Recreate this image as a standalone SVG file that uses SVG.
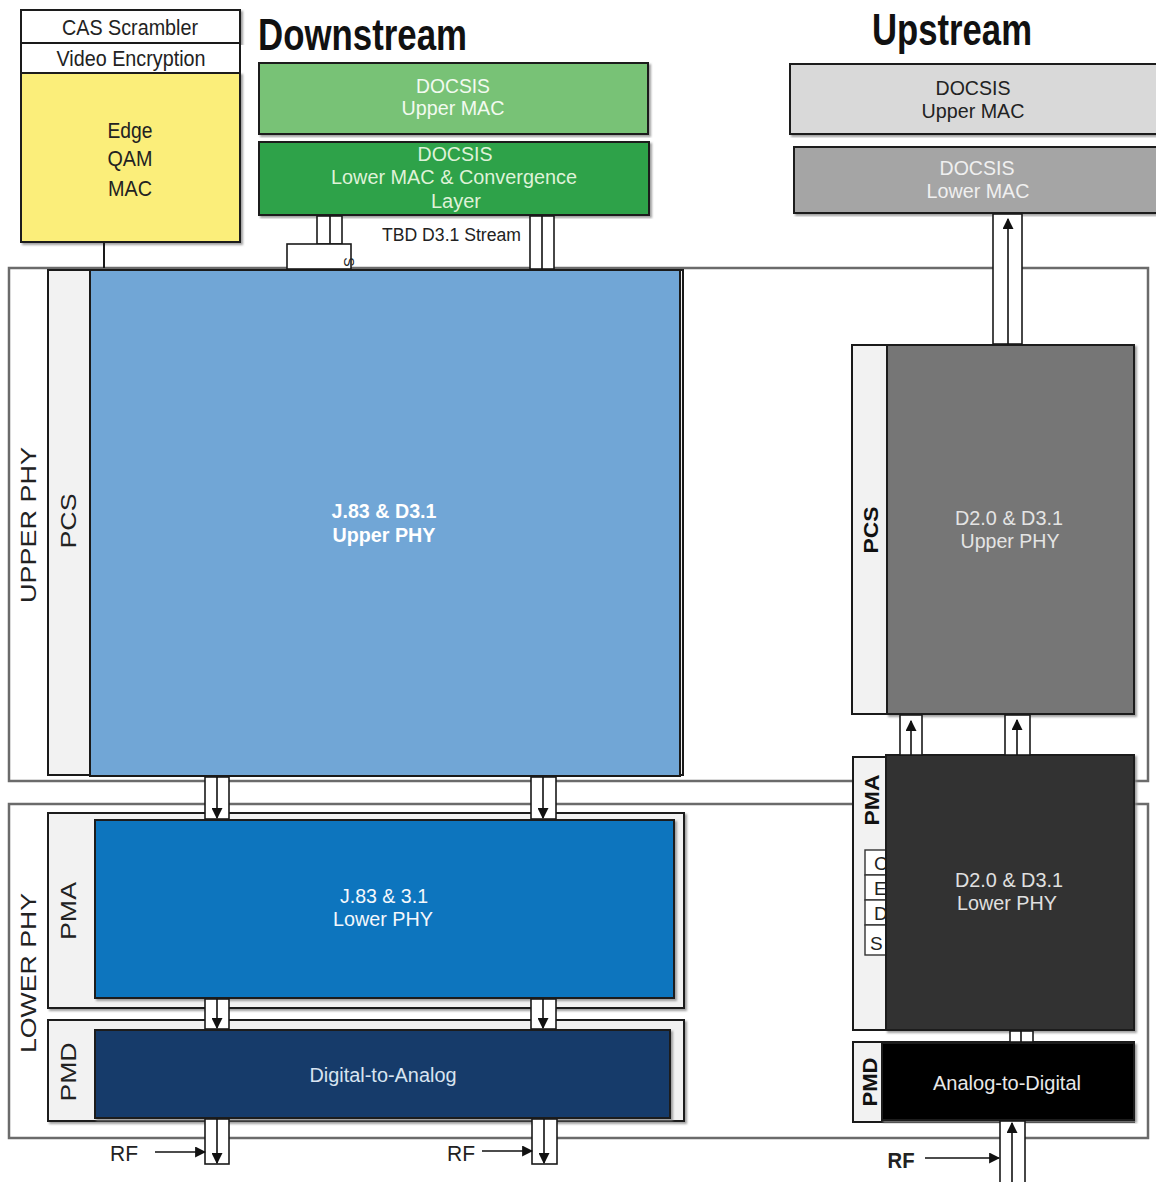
<svg xmlns="http://www.w3.org/2000/svg" width="1156" height="1182" viewBox="0 0 1156 1182">
  <defs>
    <filter id="sh" x="-5%" y="-5%" width="110%" height="110%">
      <feDropShadow dx="2" dy="2" stdDeviation="0.8" flood-color="#888" flood-opacity="0.8"/>
    </filter>
    <marker id="ahL" viewBox="0 0 10 10" refX="9" refY="5" markerWidth="11" markerHeight="11" orient="auto" markerUnits="userSpaceOnUse">
      <path d="M0,0 L10,5 L0,10 z" fill="#111"/>
    </marker>
  </defs>
  <style>
    text { font-family: "Liberation Sans", Arial, sans-serif; }
    .t22 { font-size: 20px; text-anchor: middle; }
    .t18 { font-size: 18px; }
    .head { font-size: 44px; font-weight: bold; fill: #111; }
    .box { stroke: #1a1a1a; stroke-width: 2; }
    .frame { fill: #fff; stroke: #6b6b6b; stroke-width: 2.5; }
    .col { fill: #f2f2f2; stroke: #1a1a1a; stroke-width: 2; }
    .pipe { fill: #fff; stroke: #1a1a1a; stroke-width: 1.6; }
    .core { stroke: #111; stroke-width: 1.6; fill: none; }
    .lbl { font-size: 22px; text-anchor: middle; fill: #222; }
    .lblb { font-size: 20px; text-anchor: middle; fill: #111; font-weight: bold; }
  </style>

  <!-- outer layer frames -->
  <g id="upper-phy-frame">
    <rect class="frame" x="9" y="268" width="1139" height="513"/>
    <text class="lbl" transform="translate(28,525) rotate(-90)" y="8" textLength="156" lengthAdjust="spacingAndGlyphs">UPPER PHY</text>
  </g>
  <g id="lower-phy-frame">
    <rect class="frame" x="9" y="804" width="1139" height="334"/>
    <text class="lbl" transform="translate(28,973) rotate(-90)" y="8" textLength="160" lengthAdjust="spacingAndGlyphs">LOWER PHY</text>
  </g>

  <!-- headings -->
  <text class="head" x="258" y="50" textLength="209" lengthAdjust="spacingAndGlyphs">Downstream</text>
  <text class="head" x="872" y="45" textLength="160" lengthAdjust="spacingAndGlyphs">Upstream</text>

  <!-- RF labels -->
  <text class="lbl" x="124" y="1161" textLength="28" lengthAdjust="spacingAndGlyphs">RF</text>
  <text class="lbl" x="461" y="1161" textLength="28" lengthAdjust="spacingAndGlyphs">RF</text>
  <text class="lbl" x="901" y="1168" textLength="27" lengthAdjust="spacingAndGlyphs" font-weight="bold">RF</text>

  <!-- Edge QAM stack -->
  <g id="cas-scrambler">
    <rect class="box" x="21" y="10" width="219" height="33" fill="#fff" filter="url(#sh)"/>
    <text class="lbl" x="130" y="35" textLength="136" lengthAdjust="spacingAndGlyphs">CAS Scrambler</text>
  </g>
  <g id="video-encryption">
    <rect class="box" x="21" y="43" width="219" height="30" fill="#fff"/>
    <text class="lbl" x="131" y="66" textLength="149" lengthAdjust="spacingAndGlyphs">Video Encryption</text>
  </g>
  <g id="edge-qam-mac">
    <rect class="box" x="21" y="73" width="219" height="169" fill="#fbee7a" filter="url(#sh)"/>
    <text class="lbl" x="130" y="138" textLength="45" lengthAdjust="spacingAndGlyphs">Edge</text>
    <text class="lbl" x="130" y="166" textLength="45" lengthAdjust="spacingAndGlyphs">QAM</text>
    <text class="lbl" x="130" y="196" textLength="44" lengthAdjust="spacingAndGlyphs">MAC</text>
  </g>

  <!-- Downstream MAC -->
  <g id="ds-upper-mac">
    <rect class="box" x="259" y="63" width="389" height="71" fill="#78c276" filter="url(#sh)"/>
    <text class="t22" x="453" y="93" fill="#f2faf0" textLength="74" lengthAdjust="spacingAndGlyphs">DOCSIS</text>
    <text class="t22" x="453" y="115" fill="#f2faf0" textLength="103" lengthAdjust="spacingAndGlyphs">Upper MAC</text>
  </g>
  <g id="ds-lower-mac">
    <rect class="box" x="259" y="142" width="390" height="73" fill="#2ea24a" filter="url(#sh)"/>
    <text class="t22" x="455" y="161" fill="#dff2d8" textLength="75" lengthAdjust="spacingAndGlyphs">DOCSIS</text>
    <text class="t22" x="454" y="184" fill="#dff2d8" textLength="246" lengthAdjust="spacingAndGlyphs">Lower MAC &amp; Convergence</text>
    <text class="t22" x="456" y="208" fill="#dff2d8" textLength="50" lengthAdjust="spacingAndGlyphs">Layer</text>
  </g>
  <text class="t18" x="382" y="241" fill="#222" textLength="139" lengthAdjust="spacingAndGlyphs">TBD D3.1 Stream</text>

  <!-- Upstream MAC -->
  <g id="us-upper-mac">
    <rect class="box" x="790" y="64" width="372" height="70" fill="#d9d9d9" filter="url(#sh)"/>
    <text class="t22" x="973" y="95" fill="#222" textLength="75" lengthAdjust="spacingAndGlyphs">DOCSIS</text>
    <text class="t22" x="973" y="118" fill="#222" textLength="103" lengthAdjust="spacingAndGlyphs">Upper MAC</text>
  </g>
  <g id="us-lower-mac">
    <rect class="box" x="794" y="147" width="368" height="66" fill="#a5a5a5" filter="url(#sh)"/>
    <text class="t22" x="977" y="175" fill="#f0f0f0" textLength="75" lengthAdjust="spacingAndGlyphs">DOCSIS</text>
    <text class="t22" x="978" y="198" fill="#f0f0f0" textLength="103" lengthAdjust="spacingAndGlyphs">Lower MAC</text>
  </g>

  <!-- Downstream PHY -->
  <g id="ds-pcs">
    <rect class="col" x="48" y="270" width="635" height="505"/>
    <text class="lbl" transform="translate(68,521) rotate(-90)" y="8" textLength="55" lengthAdjust="spacingAndGlyphs">PCS</text>
  </g>
  <g id="ds-upper-phy">
    <rect class="box" x="90" y="270" width="590" height="506" fill="#71a6d6"/>
    <text class="t22" x="384" y="518" fill="#fff" font-weight="bold" textLength="105" lengthAdjust="spacingAndGlyphs">J.83 &amp; D3.1</text>
    <text class="t22" x="384" y="542" fill="#fff" font-weight="bold" textLength="103" lengthAdjust="spacingAndGlyphs">Upper PHY</text>
  </g>
  <g id="ds-pma">
    <rect class="col" x="48" y="813" width="636" height="195" filter="url(#sh)"/>
    <text class="lbl" transform="translate(68,911) rotate(-90)" y="8" textLength="58" lengthAdjust="spacingAndGlyphs">PMA</text>
  </g>
  <g id="ds-lower-phy">
    <rect class="box" x="95" y="820" width="579" height="178" fill="#1174be" filter="url(#sh)"/>
    <text class="t22" x="384" y="903" fill="#f4f8fc" textLength="88" lengthAdjust="spacingAndGlyphs">J.83 &amp; 3.1</text>
    <text class="t22" x="383" y="926" fill="#f4f8fc" textLength="100" lengthAdjust="spacingAndGlyphs">Lower PHY</text>
  </g>
  <g id="ds-pmd">
    <rect class="col" x="48" y="1020" width="636" height="101" filter="url(#sh)"/>
    <text class="lbl" transform="translate(68,1072) rotate(-90)" y="8" textLength="59" lengthAdjust="spacingAndGlyphs">PMD</text>
  </g>
  <g id="ds-dac">
    <rect class="box" x="95" y="1030" width="575" height="88" fill="#123b6a" filter="url(#sh)"/>
    <text class="t22" x="383" y="1082" fill="#d8e4f0" textLength="147" lengthAdjust="spacingAndGlyphs">Digital-to-Analog</text>
  </g>

  <!-- Upstream PHY -->
  <g id="us-pcs">
    <rect class="col" x="852" y="345" width="282" height="369"/>
    <text class="lblb" transform="translate(871,530) rotate(-90)" y="7" textLength="47" lengthAdjust="spacingAndGlyphs">PCS</text>
  </g>
  <g id="us-upper-phy">
    <rect class="box" x="887" y="345" width="247" height="369" fill="#767676" filter="url(#sh)"/>
    <text class="t22" x="1009" y="525" fill="#e4e4e4" textLength="108" lengthAdjust="spacingAndGlyphs">D2.0 &amp; D3.1</text>
    <text class="t22" x="1010" y="548" fill="#e4e4e4" textLength="99" lengthAdjust="spacingAndGlyphs">Upper PHY</text>
  </g>
  <g id="us-pma">
    <rect class="col" x="853" y="757" width="281" height="273"/>
    <text class="lblb" transform="translate(872,800) rotate(-90)" y="7" textLength="51" lengthAdjust="spacingAndGlyphs">PMA</text>
    <rect x="865" y="850" width="22" height="25" fill="#fff" stroke="#333" stroke-width="1.4"/>
    <rect x="865" y="875" width="22" height="25" fill="#fff" stroke="#333" stroke-width="1.4"/>
    <rect x="865" y="900" width="22" height="25" fill="#fff" stroke="#333" stroke-width="1.4"/>
    <rect x="865" y="925" width="22" height="30" fill="#fff" stroke="#333" stroke-width="1.4"/>
    <text x="874" y="870" font-size="19" fill="#222">C</text>
    <text x="874" y="895" font-size="19" fill="#222">E</text>
    <text x="874" y="920" font-size="19" fill="#222">D</text>
    <text x="870" y="950" font-size="19" fill="#222">S</text>
  </g>
  <g id="us-lower-phy">
    <rect class="box" x="886" y="755" width="248" height="275" fill="#333333" filter="url(#sh)"/>
    <text class="t22" x="1009" y="887" fill="#e0e0e0" textLength="108" lengthAdjust="spacingAndGlyphs">D2.0 &amp; D3.1</text>
    <text class="t22" x="1007" y="910" fill="#e0e0e0" textLength="100" lengthAdjust="spacingAndGlyphs">Lower PHY</text>
  </g>
  <g id="us-pmd">
    <rect class="col" x="853" y="1042" width="281" height="80"/>
    <text class="lblb" transform="translate(870,1082) rotate(-90)" y="7" textLength="49" lengthAdjust="spacingAndGlyphs">PMD</text>
  </g>
  <g id="us-adc">
    <rect class="box" x="882" y="1043" width="252" height="77" fill="#000" filter="url(#sh)"/>
    <text class="t22" x="1007" y="1090" fill="#e8e8e8" textLength="148" lengthAdjust="spacingAndGlyphs">Analog-to-Digital</text>
  </g>

  <!-- connectors, drawn over the layer frames -->
  <g id="connectors">
    <!-- edge QAM tie -->
    <line x1="104" y1="243" x2="104" y2="268" stroke="#1a1a1a" stroke-width="2"/>
    <!-- downstream MAC to PHY -->
    <rect class="pipe" x="317" y="216" width="25" height="28"/>
    <line class="core" x1="330" y1="216" x2="330" y2="244"/>
    <rect class="pipe" x="530" y="216" width="24" height="53"/>
    <line class="core" x1="542" y1="216" x2="542" y2="269"/>
    <!-- small interface block -->
    <rect x="287" y="244" width="64" height="25" fill="#fff" stroke="#1a1a1a" stroke-width="1.6"/>
    <text x="344" y="262" font-size="14" fill="#222" transform="rotate(90 344 262)" text-anchor="middle">S</text>

    <!-- upper PHY to lower PHY -->
    <rect class="pipe" x="205" y="777" width="24" height="42"/>
    <line class="core" x1="217" y1="777" x2="217" y2="818" marker-end="url(#ahL)"/>
    <rect class="pipe" x="531" y="777" width="25" height="42"/>
    <line class="core" x1="543" y1="777" x2="543" y2="818" marker-end="url(#ahL)"/>
    <!-- PMA to PMD -->
    <rect class="pipe" x="205" y="999" width="24" height="30"/>
    <line class="core" x1="217" y1="999" x2="217" y2="1028" marker-end="url(#ahL)"/>
    <rect class="pipe" x="531" y="999" width="25" height="30"/>
    <line class="core" x1="543" y1="999" x2="543" y2="1028" marker-end="url(#ahL)"/>
    <!-- PMD to RF out -->
    <rect class="pipe" x="205" y="1119" width="24" height="45"/>
    <line class="core" x1="217" y1="1119" x2="217" y2="1163" marker-end="url(#ahL)"/>
    <rect class="pipe" x="532" y="1119" width="25" height="45"/>
    <line class="core" x1="544" y1="1119" x2="544" y2="1163" marker-end="url(#ahL)"/>
    <line class="core" x1="155" y1="1152" x2="205" y2="1152" marker-end="url(#ahL)"/>
    <line class="core" x1="482" y1="1151" x2="532" y2="1151" marker-end="url(#ahL)"/>

    <!-- upstream: PCS to lower MAC -->
    <rect class="pipe" x="993" y="214" width="29" height="130"/>
    <line class="core" x1="1008" y1="344" x2="1008" y2="219" marker-end="url(#ahL)"/>
    <!-- PMA to PCS -->
    <rect class="pipe" x="900" y="715" width="22" height="40"/>
    <line class="core" x1="911" y1="755" x2="911" y2="721" marker-end="url(#ahL)"/>
    <rect class="pipe" x="1005" y="715" width="25" height="40"/>
    <line class="core" x1="1017" y1="755" x2="1017" y2="720" marker-end="url(#ahL)"/>
    <!-- PMD to PMA -->
    <rect class="pipe" x="1010" y="1031" width="23" height="11"/>
    <line class="core" x1="1021" y1="1042" x2="1021" y2="1031"/>
    <!-- RF in to PMD -->
    <rect class="pipe" x="1000" y="1121" width="25" height="63"/>
    <line class="core" x1="1012" y1="1182" x2="1012" y2="1123" marker-end="url(#ahL)"/>
    <line class="core" x1="925" y1="1158" x2="999" y2="1158" marker-end="url(#ahL)"/>
  </g>
</svg>
